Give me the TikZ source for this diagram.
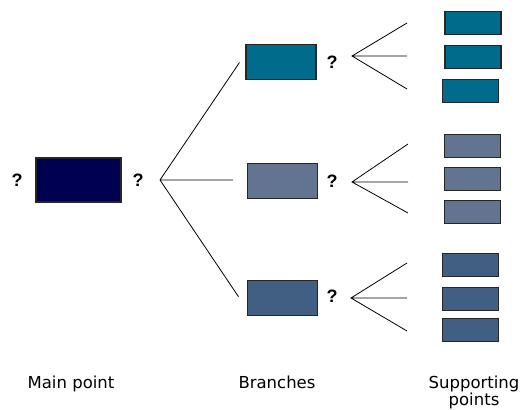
\documentclass[tikz,border=0pt]{standalone}
\usepackage{fontspec}
\setmainfont{DejaVu Sans}
\newfontfamily\qfont{Liberation Sans}
\definecolor{navy}{RGB}{0,0,80}
\definecolor{tealb}{RGB}{0,107,138}
\definecolor{slatea}{RGB}{98,116,144}
\definecolor{slateb}{RGB}{64,95,130}
\begin{document}
\begin{tikzpicture}[x=1pt,y=-1pt,
  box/.style={draw=black!85,line width=1.3pt,inner sep=0pt,minimum width=#1},
  mainbox/.style={box=85pt,fill=navy,minimum height=44pt},
  brbox/.style={box=70pt,minimum height=35pt},
  supbox/.style={box=56pt,minimum height=23pt},
  qm/.style={font=\qfont\bfseries\fontsize{18}{18}\selectfont,inner sep=0pt},
  lbl/.style={font=\fontsize{16.5}{17.5}\selectfont,align=center,inner sep=0pt},
  fan/.style={draw=black,line width=0.8pt}]
\useasboundingbox (0,0) rectangle (521,409);
% main
\node[mainbox] (m) at (78.5,180) {};
\node[qm] (q0) at (17,180) {?};
\node[qm] (q1) at (138,180) {?};
% branches
\node[brbox,fill=tealb] (b1) at (281,62) {};
\node[brbox,fill=slatea] (b2) at (282.5,181) {};
\node[brbox,fill=slateb] (b3) at (282.5,298) {};
\node[qm] (qb1) at (332,62) {?};
\node[qm] (qb2) at (332,181) {?};
\node[qm] (qb3) at (332,296) {?};
% supporting
\node[supbox,fill=tealb] (s11) at (473,23.3) {};
\node[supbox,fill=tealb] (s12) at (473,57) {};
\node[supbox,fill=tealb] (s13) at (470.7,90.7) {};
\node[supbox,fill=slatea] (s21) at (472.7,145.7) {};
\node[supbox,fill=slatea] (s22) at (472.7,179.3) {};
\node[supbox,fill=slatea] (s23) at (472.7,212.3) {};
\node[supbox,fill=slateb] (s31) at (470.7,264.7) {};
\node[supbox,fill=slateb] (s32) at (470.7,298.7) {};
\node[supbox,fill=slateb] (s33) at (470.7,330) {};
% fan coordinates
\coordinate (a0) at (160,180);
\coordinate (e01) at (239.5,62.5);
\coordinate (e02) at (233,180);
\coordinate (e03) at (238.5,296.7);
\coordinate (a1) at (352,56);
\coordinate (e11) at (407,23);
\coordinate (e12) at (407,56);
\coordinate (e13) at (407,89);
\coordinate (a2) at (352,182);
\coordinate (e21) at (408,144);
\coordinate (e22) at (408,182);
\coordinate (e23) at (408,213);
\coordinate (a3) at (351,298);
\coordinate (e31) at (407,263);
\coordinate (e32) at (407,298);
\coordinate (e33) at (407,331);
\draw[fan] (e01) -- (a0) -- (e03) (a0) -- (e02);
\draw[fan] (e11) -- (a1) -- (e13) (a1) -- (e12);
\draw[fan] (e21) -- (a2) -- (e23) (a2) -- (e22);
\draw[fan] (e31) -- (a3) -- (e33) (a3) -- (e32);
% labels
\node[lbl,anchor=base] (l1) at (71,388) {Main point};
\node[lbl,anchor=base] (l2) at (277,388) {Branches};
\node[lbl,anchor=base] (l3) at (474,405.5) {Supporting\\points};
\end{tikzpicture}
\end{document}
